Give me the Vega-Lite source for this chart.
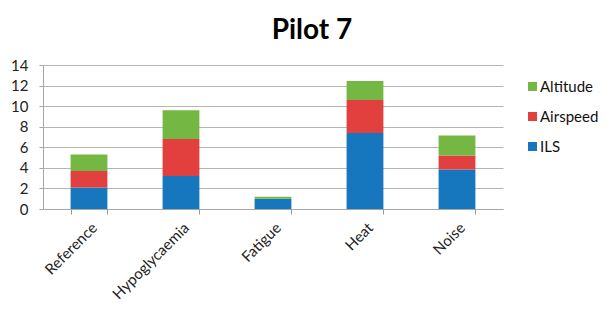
{
  "$schema": "https://vega.github.io/schema/vega-lite/v6.json",
  "autosize": "none",
  "width": 460,
  "height": 144,
  "padding": {"left": 43, "top": 65, "right": 102, "bottom": 100},
  "background": "white",
  "title": {"text": "Pilot 7", "font": "Lato", "fontSize": 28, "fontWeight": "bold", "color": "#000", "anchor": "middle", "frame": "group", "dx": 39, "offset": -9, "baseline": "alphabetic"},
  "config": {"view": {"stroke": null}, "font": "Lato"},
  "data": {"values": [
    {"condition": "Reference", "series": "ILS", "value": 2.1},
    {"condition": "Reference", "series": "Airspeed", "value": 1.6},
    {"condition": "Reference", "series": "Altitude", "value": 1.6},
    {"condition": "Hypoglycaemia", "series": "ILS", "value": 3.2},
    {"condition": "Hypoglycaemia", "series": "Airspeed", "value": 3.6},
    {"condition": "Hypoglycaemia", "series": "Altitude", "value": 2.8},
    {"condition": "Fatigue", "series": "ILS", "value": 1.0},
    {"condition": "Fatigue", "series": "Airspeed", "value": 0},
    {"condition": "Fatigue", "series": "Altitude", "value": 0.2},
    {"condition": "Heat", "series": "ILS", "value": 7.4},
    {"condition": "Heat", "series": "Airspeed", "value": 3.2},
    {"condition": "Heat", "series": "Altitude", "value": 1.85},
    {"condition": "Noise", "series": "ILS", "value": 3.85},
    {"condition": "Noise", "series": "Airspeed", "value": 1.35},
    {"condition": "Noise", "series": "Altitude", "value": 1.95}
  ]},
  "transform": [{"calculate": "indexof(['ILS','Airspeed','Altitude'], datum.series)", "as": "stackOrder"}],
  "mark": {"type": "bar"},
  "encoding": {
    "x": {"field": "condition", "type": "nominal", "sort": ["Reference", "Hypoglycaemia", "Fatigue", "Heat", "Noise"],
          "scale": {"paddingInner": 0.6, "paddingOuter": 0.3},
          "axis": {"title": null, "labelAngle": -45, "labelFontSize": 15, "labelColor": "#222", "labelPadding": 6, "ticks": true, "tickBand": "extent", "tickSize": 5, "tickColor": "#999999", "domainColor": "#a6a6a6", "labelFont": "Lato"}},
    "y": {"field": "value", "type": "quantitative", "stack": "zero",
          "scale": {"domain": [0, 14], "nice": false},
          "axis": {"title": null, "values": [0, 2, 4, 6, 8, 10, 12, 14], "labelOverlap": false, "labelFontSize": 15, "labelColor": "#222", "labelPadding": 11, "tickSize": 4, "tickColor": "#a6a6a6", "domainColor": "#a6a6a6", "gridColor": "#b5b5b5", "labelFont": "Lato"}},
    "color": {"field": "series", "type": "nominal",
              "scale": {"domain": ["Altitude", "Airspeed", "ILS"], "range": ["#74b843", "#e2403f", "#1677be"]},
              "legend": {"title": null, "orient": "none", "legendX": 482, "legendY": 14, "symbolType": "square", "symbolSize": 81, "symbolStrokeWidth": 0, "labelFontSize": 15, "labelFont": "Lato", "labelColor": "#111", "rowPadding": 14, "labelOffset": 0}},
    "order": {"field": "stackOrder", "type": "quantitative"}
  }
}
